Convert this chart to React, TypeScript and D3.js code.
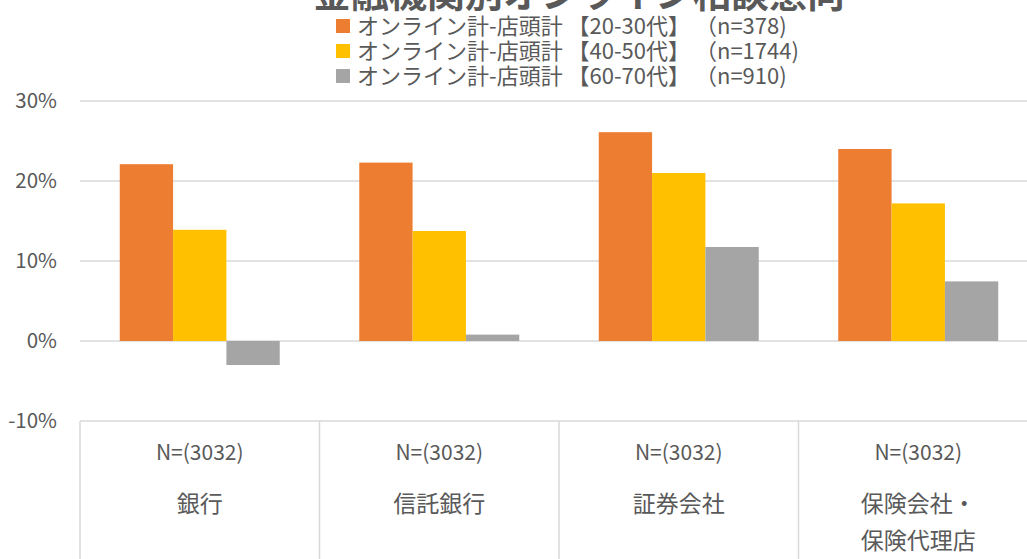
import React from "react";
import * as d3 from "d3";

const categories = ["銀行", "信託銀行", "証券会社", "保険会社・\n保険代理店"];
const sampleLabels = ["N=(3032)", "N=(3032)", "N=(3032)", "N=(3032)"];
const seriesNames = [
  "オンライン計-店頭計 【20-30代】 （n=378)",
  "オンライン計-店頭計 【40-50代】 （n=1744)",
  "オンライン計-店頭計 【60-70代】 （n=910)",
];
const age2030 = [22.1, 22.3, 26.1, 24.0];
const age4050 = [13.9, 13.75, 21.0, 17.2];
const age6070 = [-3.0, 0.8, 11.75, 7.45];
const yTicks = [-10, 0, 10, 20, 30];
const title = "金融機関別オンライン相談意向";

const colors = ["#ED7D31", "#FFC000", "#A5A5A5"];
const FONT = "'Noto Sans CJK JP', 'Noto Sans', sans-serif";
const TEXT = "#595959";
const GRID = "#D9D9D9";

export default function App() {
  const W = 1027, H = 559;
  const left = 80, right = 1038;
  const y = d3.scaleLinear().domain([-10, 30]).range([421, 101]);
  const x0 = d3.scaleBand<number>().domain(d3.range(categories.length)).range([left, right]).padding(0);
  const bw = x0.bandwidth();
  const groupW = bw * 0.668;
  const x1 = d3.scaleBand<number>().domain([0, 1, 2]).range([(bw - groupW) / 2, (bw + groupW) / 2]).padding(0);
  const series = [age2030, age4050, age6070];

  return (
    <svg width={W} height={H} style={{ position: "absolute", left: 0, top: 0, background: "#fff" }} fontFamily={FONT}>
      <rect width={W} height={H} fill="#fff" />
      {/* title */}
      <text x={579} y={7} textAnchor="middle" fontSize={38} fontWeight="bold" fill={TEXT}>{title}</text>
      {/* legend */}
      {seriesNames.map((s, i) => (
        <g key={s} transform={`translate(336, ${26 + i * 25})`}>
          <rect x={0} y={-7} width={14} height={14} fill={colors[i]} />
          <text x={21} y={0} dy="0.35em" fontSize={22} fill={TEXT}>{s}</text>
        </g>
      ))}
      {/* gridlines */}
      {yTicks.map((t) => (
        <g key={t}>
          <line x1={left} x2={right} y1={y(t)} y2={y(t)} stroke={GRID} strokeWidth={1.5} />
          <text x={57} y={y(t)} dy="0.35em" textAnchor="end" fontSize={20.5} fill={TEXT}>{t}%</text>
        </g>
      ))}
      {/* bars */}
      {series.map((vals, si) =>
        vals.map((v, ci) => {
          const bx = (x0(ci) as number) + (x1(si) as number);
          const y0 = y(0), yv = y(v);
          return (
            <rect key={`${si}-${ci}`} x={bx} width={x1.bandwidth()} y={Math.min(y0, yv)} height={Math.abs(yv - y0)} fill={colors[si]} />
          );
        })
      )}
      {/* table */}
      {d3.range(categories.length + 1).map((i) => {
        const xx = i < categories.length ? (x0(i) as number) : right;
        return <line key={i} x1={xx} x2={xx} y1={y(-10)} y2={H} stroke={GRID} strokeWidth={1.5} />;
      })}
      {categories.map((c, i) => {
        const cx = (x0(i) as number) + bw / 2;
        const lines = c.split("\n");
        return (
          <g key={c}>
            <text x={cx} y={453} dy="0.35em" textAnchor="middle" fontSize={21} fill={TEXT}>{sampleLabels[i]}</text>
            {lines.map((l, li) => (
              <text key={li} x={cx} y={504 + li * 37} dy="0.35em" textAnchor="middle" fontSize={23} fill={TEXT}>{l}</text>
            ))}
          </g>
        );
      })}
    </svg>
  );
}
